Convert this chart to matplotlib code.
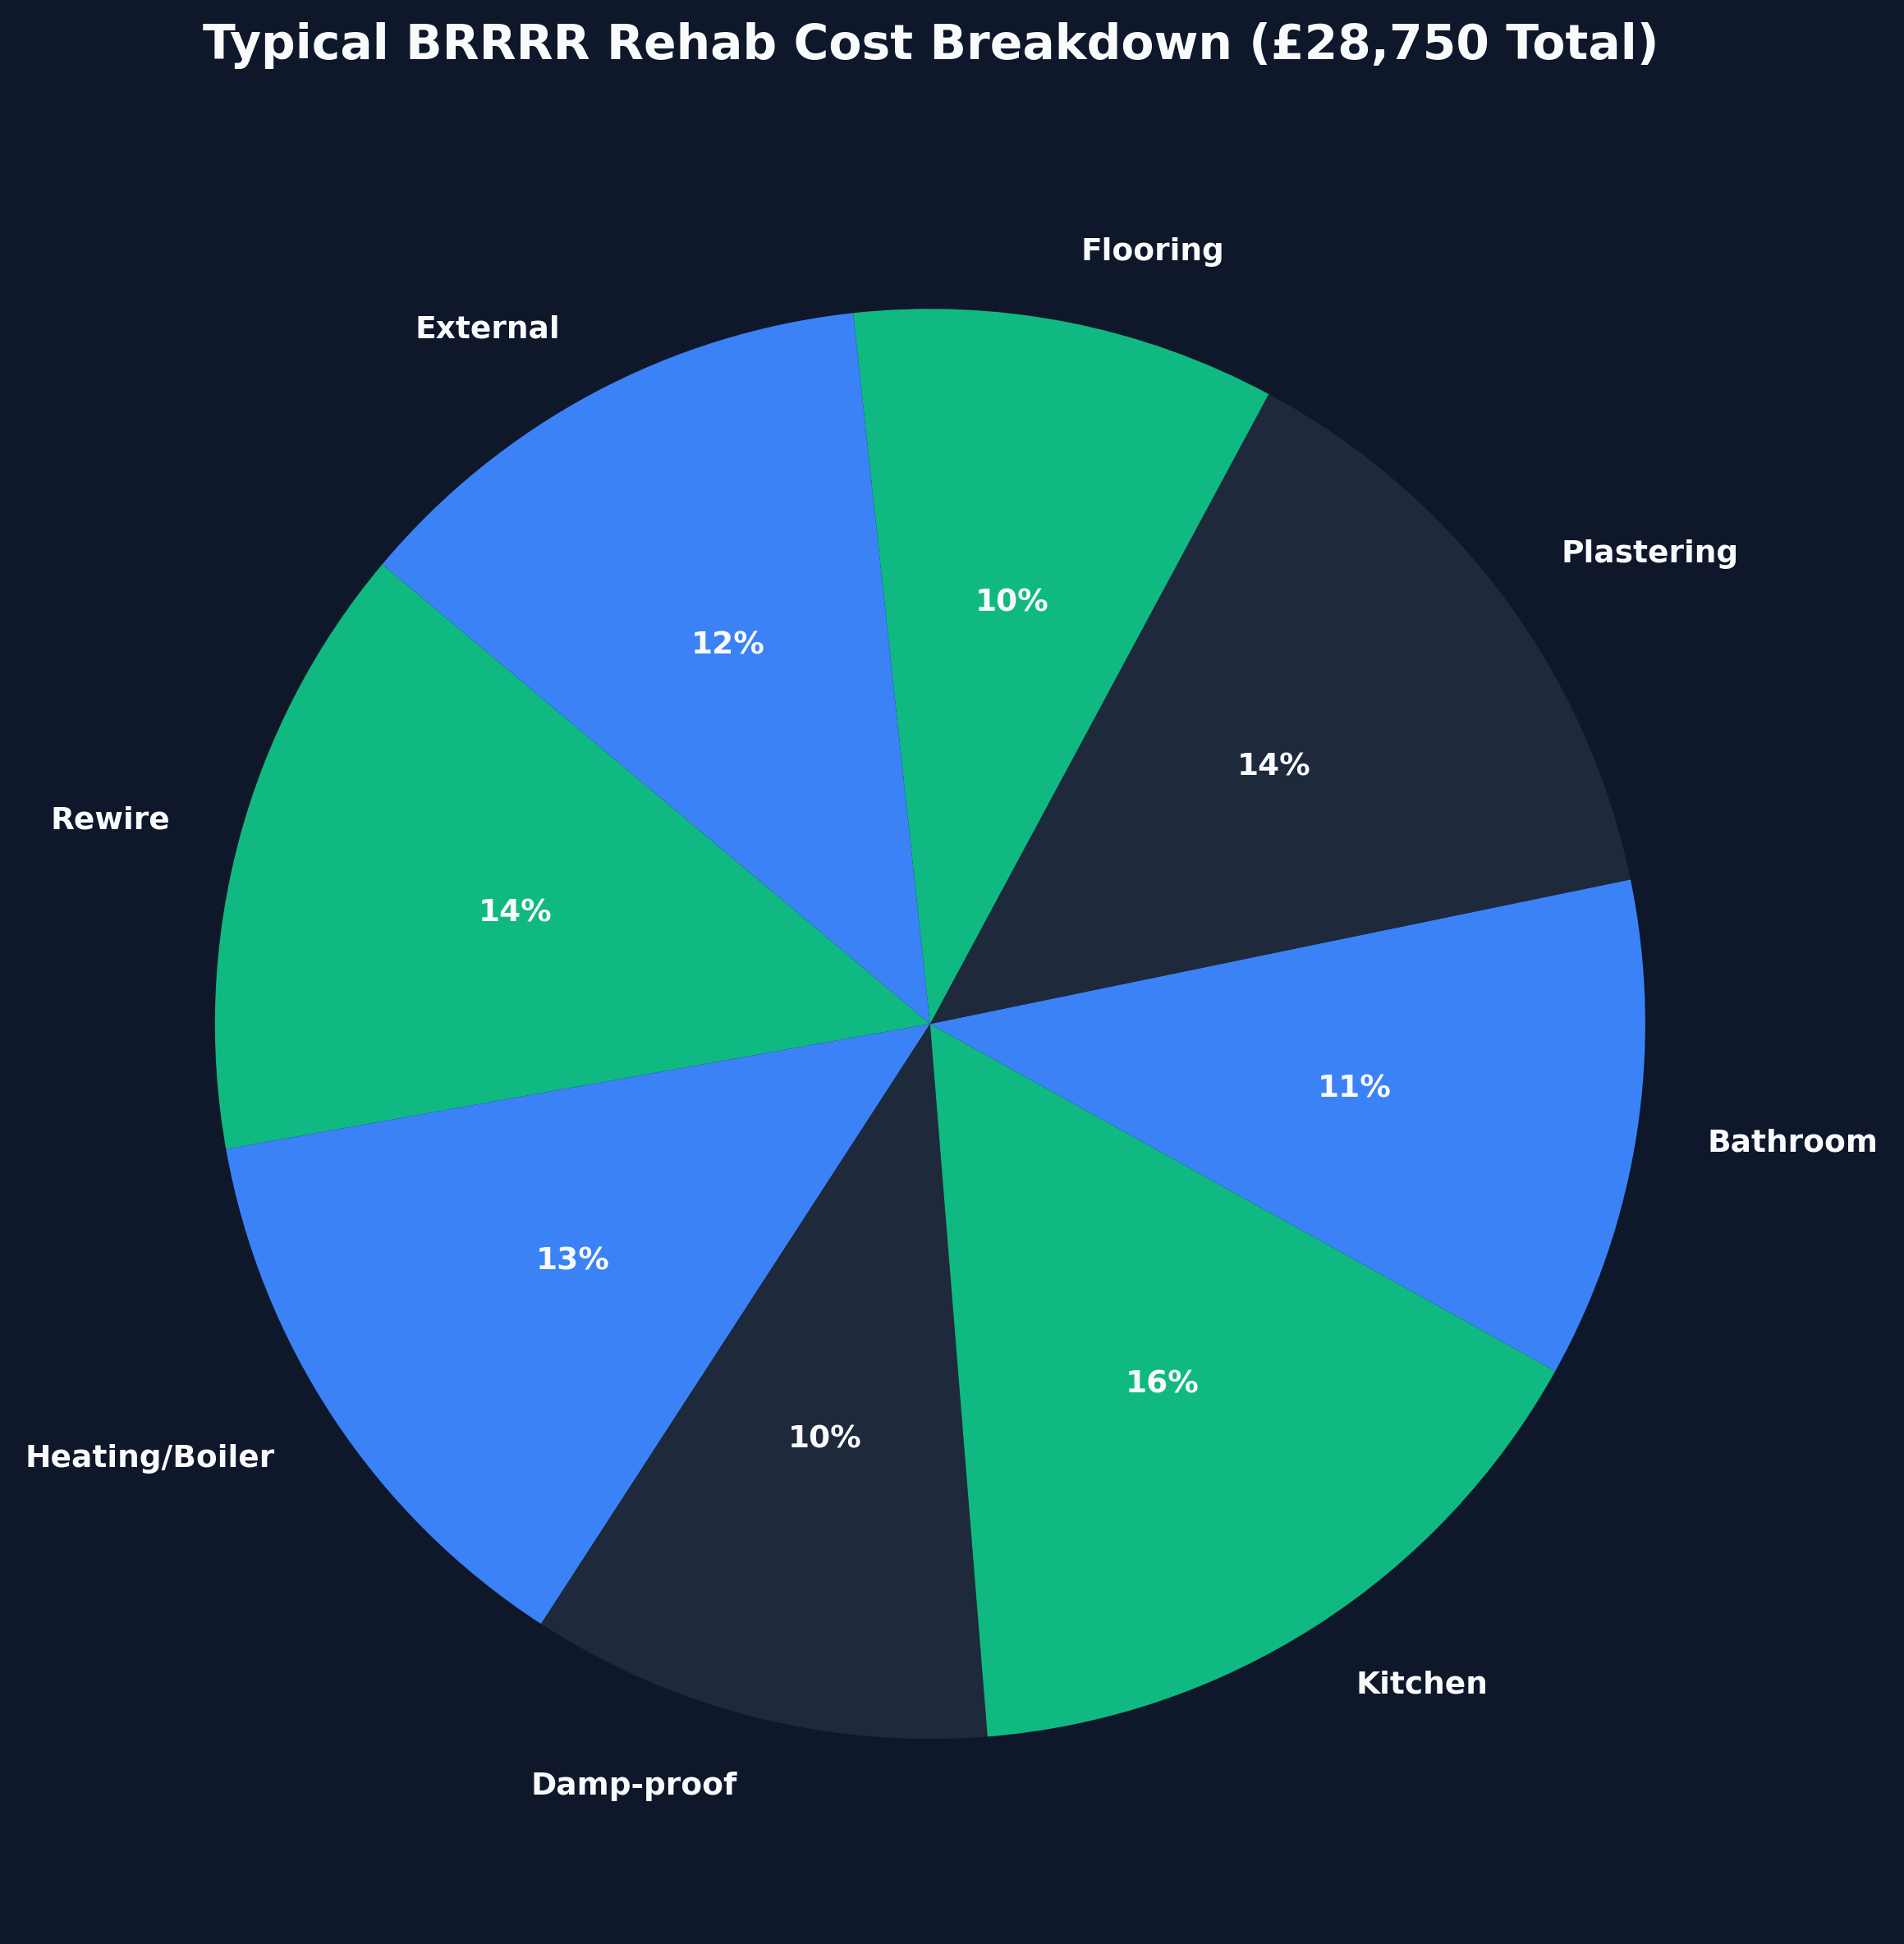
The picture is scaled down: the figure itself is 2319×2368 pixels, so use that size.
import matplotlib
matplotlib.use("Agg")
import matplotlib.pyplot as plt

BG = "#0F172A"
TEXT = "#F8FAFC"

categories = ["Rewire", "Heating/Boiler", "Damp-proof", "Kitchen",
              "Bathroom", "Plastering", "Flooring", "External"]
costs = [4000, 3750, 3000, 4500, 3250, 4000, 2750, 3500]
palette = ["#10B981", "#3B82F6", "#1E293B"]

total = sum(costs)
colors = [palette[i % len(palette)] for i in range(len(costs))]

fig = plt.figure(figsize=(2319 / 150, 2368 / 150), dpi=150, facecolor=BG)
ax = fig.add_axes([0.019, 0.0135, 0.939, 0.9196])
ax.set_facecolor(BG)

wedges, texts, autotexts = ax.pie(
    costs, labels=categories, colors=colors, startangle=140,
    autopct="%1.0f%%", pctdistance=0.6, labeldistance=1.1,
    textprops={"color": TEXT, "fontsize": 18, "fontweight": "bold"},
)
for t in autotexts:
    t.set_fontsize(18)
    t.set_fontweight("bold")
ax.set_aspect("equal")

fig.text(0.4887, 0.9765, f"Typical BRRRR Rehab Cost Breakdown (£{total:,} Total)",
         ha="center", va="center", color=TEXT, fontsize=28, fontweight="bold")

fig.savefig("out.png", dpi=150, facecolor=BG)
